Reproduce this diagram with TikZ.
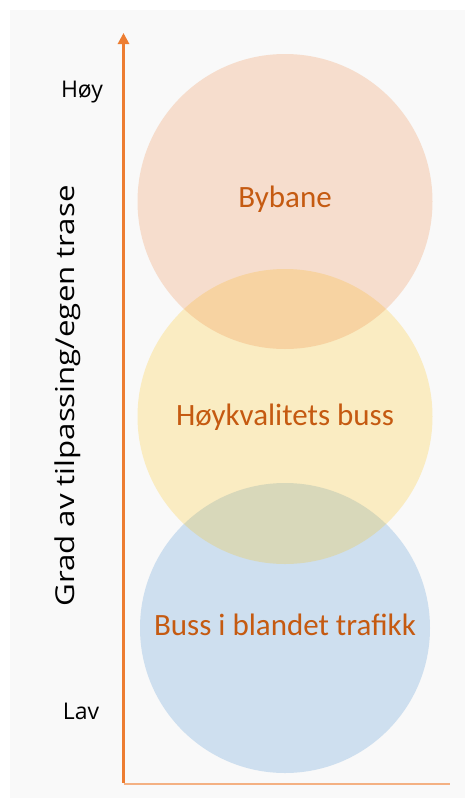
\documentclass[tikz,border=0pt]{standalone}
\usepackage{fontspec}
\setmainfont{Carlito}
\newfontfamily\axisfont{Open Sans}
\usetikzlibrary{arrows.meta}
\definecolor{bggray}{RGB}{249,249,249}
\definecolor{axisorange}{RGB}{237,125,49}
\definecolor{axislight}{RGB}{244,177,131}
\definecolor{labelorange}{RGB}{197,90,17}
\definecolor{cOrange}{RGB}{237,125,49}
\definecolor{cYellow}{RGB}{255,192,0}
\definecolor{cBlue}{RGB}{91,155,213}
\tikzset{
  bubble/.style={circle, inner sep=0pt, draw=none},
  bubbletext/.style={anchor=base, inner sep=0pt, text=labelorange, font=\fontsize{31}{36}\selectfont},
  axislabel/.style={anchor=base, inner sep=0pt, text=black, font=\axisfont\fontsize{23}{28}\selectfont},
}
\begin{document}
\begin{tikzpicture}[x=1pt,y=-1pt]
\useasboundingbox (0,0) rectangle (465,798);
\fill[white] (0,0) rectangle (465,798);
\fill[bggray] (10,10) rectangle (465,798);
% circles
\node[bubble, fill=cBlue, fill opacity=0.27, minimum size=290pt] (cblue) at (285,628) {};
\node[bubble, fill=cYellow, fill opacity=0.22, minimum size=295pt] (cyellow) at (285,416.5) {};
\node[bubble, fill=cOrange, fill opacity=0.22, minimum size=295pt] (corange) at (285,201.5) {};
% labels
\node[bubbletext] (tbybane) at (285,207) {Bybane};
\node[bubbletext] (thoy) at (285,425) {Høykvalitets buss};
\node[bubbletext] (tbuss) at (285,635) {Buss i blandet trafikk};
% axes
\coordinate (origin) at (123.5,783.5);
\coordinate (ytop) at (123.5,33);
\coordinate (xend) at (450,783.5);
\draw[axislight, line width=2pt] (origin) -- (xend);
\draw[axisorange, line width=2.7pt, -{Triangle[width=11pt,length=11pt]}] ([yshift=1pt]origin) -- (ytop);
\node[axislabel] (high) at (82,97) {Høy};
\node[axislabel] (low) at (81,719) {Lav};
\node[anchor=base, inner sep=0pt, rotate=90, font=\axisfont\fontsize{26}{31}\selectfont] (ylabel) at (74,396) {\scalebox{1.2}[1]{Grad av tilpassing/egen trase}};
\end{tikzpicture}
\end{document}
